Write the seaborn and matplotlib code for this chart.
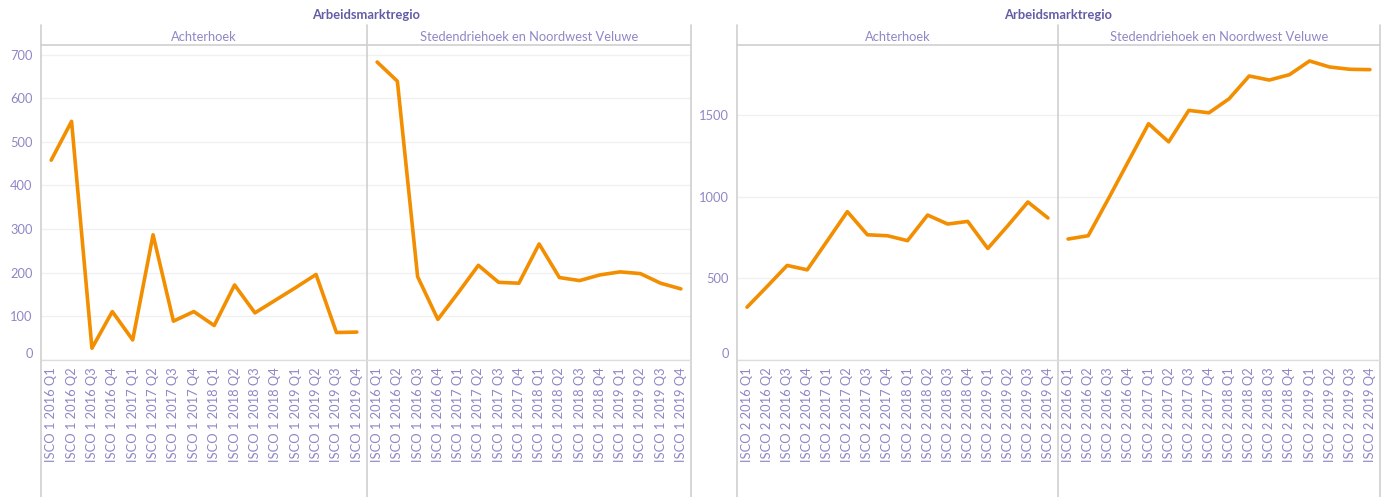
import matplotlib
matplotlib.use("Agg")
import seaborn as sns
import matplotlib.pyplot as plt
import pandas as pd
from matplotlib.lines import Line2D

kwartalen = ["2016 Q1", "2016 Q2", "2016 Q3", "2016 Q4",
             "2017 Q1", "2017 Q2", "2017 Q3", "2017 Q4",
             "2018 Q1", "2018 Q2", "2018 Q3", "2018 Q4",
             "2019 Q1", "2019 Q2", "2019 Q3", "2019 Q4"]
regio_namen = ["Achterhoek", "Stedendriehoek en Noordwest Veluwe"]
isco_groepen = ["ISCO 1", "ISCO 2"]

isco1_achterhoek = [458, 547, 27, 111, 46, 287, 89, 111, 79, 172, 108, 137, 166, 196, 63, 64]
isco1_stedendriehoek = [683, 639, 191, 93, 154, 217, 178, 176, 266, 189, 182, 195, 202, 198, 176, 163]
isco2_achterhoek = [324, 451, 580, 553, 731, 910, 768, 762, 732, 889, 834, 850, 684, 824, 969, 871]
isco2_stedendriehoek = [742, 762, 988, 1219, 1449, 1338, 1531, 1516, 1602, 1742, 1717, 1750, 1834, 1797, 1783, 1781]

reeksen = {
    ("ISCO 1", "Achterhoek"): isco1_achterhoek,
    ("ISCO 1", "Stedendriehoek en Noordwest Veluwe"): isco1_stedendriehoek,
    ("ISCO 2", "Achterhoek"): isco2_achterhoek,
    ("ISCO 2", "Stedendriehoek en Noordwest Veluwe"): isco2_stedendriehoek,
}

rows = []
for (isco, regio), waarden in reeksen.items():
    for i, (kw, w) in enumerate(zip(kwartalen, waarden)):
        rows.append({"isco": isco, "regio": regio, "pos": i,
                     "label": f"{isco} {kw}", "waarde": w})
df = pd.DataFrame(rows)

sns.set_theme(style="white")
plt.rcParams["font.family"] = ["Lato", "DejaVu Sans"]

TEKST = "#8d88c6"
TITEL = "#625ca6"
ORANJE = "#f28e00"
LIJN = "#cfcfcf"

W, H = 1393, 497
fig = plt.figure(figsize=(W / 100, H / 100), dpi=100)

def fx(px):
    return px / W

def fy(py):
    return 1 - py / H

top_px, bot_px = 45, 360
groepen = {
    "ISCO 1": {"x": [41, 367, 691], "ylim": (0, 722), "ticks": [0, 100, 200, 300, 400, 500, 600, 700]},
    "ISCO 2": {"x": [737, 1058, 1380], "ylim": (0, 1932), "ticks": [0, 500, 1000, 1500]},
}

for isco in isco_groepen:
    g = groepen[isco]
    xs = g["x"]
    for j, regio in enumerate(regio_namen):
        x0, x1 = xs[j], xs[j + 1]
        ax = fig.add_axes([fx(x0), fy(bot_px), fx(x1 - x0), (bot_px - top_px) / H])
        sub = df[(df.isco == isco) & (df.regio == regio)]
        sns.lineplot(data=sub, x="pos", y="waarde", sort=False, color=ORANJE,
                     linewidth=2.6, ax=ax)
        ax.set_xlim(-0.5, len(kwartalen) - 0.5)
        ax.set_ylim(*g["ylim"])
        ax.set_yticks(g["ticks"])
        ax.grid(axis="y", color="#f0f0f0", linewidth=1)
        ax.set_xlabel("")
        ax.set_ylabel("")
        for s in ax.spines.values():
            s.set_visible(False)
        ax.set_xticks(range(len(kwartalen)))
        ax.set_xticklabels(sub["label"], rotation=90, color=TEKST, fontsize=9.3)
        ax.set_xticks([i + 0.5 for i in range(len(kwartalen) - 1)], minor=True)
        ax.tick_params(axis="x", which="major", length=0, pad=5)
        ax.tick_params(axis="x", which="minor", length=4, color="#ebebeb", width=0.8)
        ax.tick_params(axis="y", length=0, pad=6, labelsize=9.3, labelcolor=TEKST)
        if j == 0:
            labels = ax.get_yticklabels()
            labels[0].set_verticalalignment("bottom")
        else:
            ax.set_yticklabels([])
        ax.set_facecolor("none")
        fig.text(fx((x0 + x1) / 2), fy(37), regio, ha="center", va="center",
                 color=TEKST, fontsize=9.3)
    # titel boven de facetten
    fig.text(fx((xs[0] + xs[-1]) / 2), fy(15), "Arbeidsmarktregio", ha="center",
             va="center", color=TITEL, fontsize=9.3, fontweight="bold")
    # randen in Tableau-stijl
    for x in xs:
        fig.add_artist(Line2D([fx(x), fx(x)], [fy(25), fy(H)], color=LIJN, lw=1.2))
    fig.add_artist(Line2D([fx(xs[0]), fx(xs[-1])], [fy(45), fy(45)], color=LIJN, lw=1.2))
    fig.add_artist(Line2D([fx(xs[0]), fx(xs[-1])], [fy(bot_px), fy(bot_px)], color="#dddddd", lw=1))

fig.savefig("out.png", dpi=100, facecolor="white")
